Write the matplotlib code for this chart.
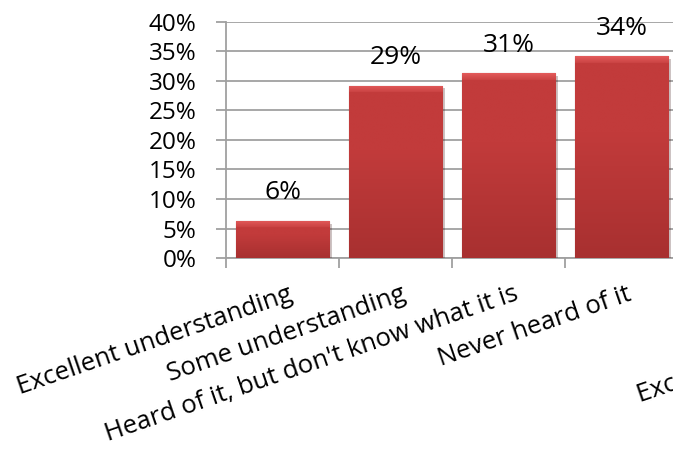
import matplotlib.pyplot as plt
import matplotlib.patheffects as pe
import matplotlib.transforms as mtransforms
from matplotlib.colors import to_rgb
import numpy as np

plt.rcParams['font.family'] = ['Open Sans', 'DejaVu Sans']

categories = ['Excellent understanding', 'Some understanding',
              "Heard of it, but don't know what it is", 'Never heard of it']
values = [6.3, 29.2, 31.3, 34.2]
labels = ['6%', '29%', '31%', '34%']
yticks = [0, 5, 10, 15, 20, 25, 30, 35, 40]

grid_col = '#a0a0a0'
bar_col = '#c03a3a'
rot = 19

fig = plt.figure(figsize=(6.73, 4.54), dpi=100)
ax = fig.add_axes([226 / 673, 196 / 454, 452 / 673, 236 / 454])

x = np.arange(len(categories))
bars = ax.bar(x, values, width=0.83, color=bar_col, edgecolor='#8a2626',
              linewidth=0.8, zorder=3,
              path_effects=[pe.SimplePatchShadow(offset=(2, -2), alpha=0.25),
                            pe.Normal()])

ax.set_xlim(-0.5, 3.5)
ax.set_ylim(0, 40)

# bevel-like shading: slightly darker at the bottom, light strip on top
dark = np.array(to_rgb('#a83030'))
mid = np.array(to_rgb('#c23b3b'))
light = np.array(to_rgb('#e25a5a'))
px_per_unit = 236 / 40
for b in bars:
    x0, y0 = b.get_x(), b.get_y()
    w, h = b.get_width(), b.get_height()
    n = max(int(h * px_per_unit), 10)
    t = np.linspace(0, 1, n)[:, None]
    rgb = dark + (mid - dark) * np.clip(t * 1.6, 0, 1)
    top = np.zeros(n)
    top[-7:] = np.linspace(0.3, 1.0, 7)
    rgb = rgb * (1 - top[:, None]) + light * top[:, None]
    img = np.repeat(rgb[:, None, :], 2, axis=1)
    im = ax.imshow(img, extent=[x0, x0 + w, y0, y0 + h], origin='lower',
                   aspect='auto', zorder=3.5, interpolation='bilinear')
    im.set_clip_path(b)

for b, lab in zip(bars, labels):
    ax.annotate(lab, (b.get_x() + b.get_width() / 2, b.get_height()),
                xytext=(0, 28), textcoords='offset pixels',
                ha='center', va='center', fontsize=19, color='black')

ax.set_yticks(yticks)
ax.set_yticklabels([f'{t}%' for t in yticks], fontsize=17.5)
ax.yaxis.grid(True, color=grid_col, linewidth=1.3, zorder=0)
ax.set_axisbelow(True)

ax.set_xticks(np.arange(-0.5, 4.0, 1.0))
ax.set_xticklabels([])
ax.set_xticks(x, minor=True)
ax.set_xticklabels(categories, minor=True, rotation=rot, ha='right',
                   va='top', rotation_mode='anchor', fontsize=18.5)
ax.tick_params(axis='x', which='minor', length=0, pad=17)
ax.tick_params(axis='both', which='major', length=7, width=1.3,
               color=grid_col, direction='out')
ax.tick_params(axis='y', pad=14)

shift = mtransforms.ScaledTranslation(5 / 100, 0, fig.dpi_scale_trans)
for lab in ax.get_xticklabels(minor=True):
    lab.set_transform(lab.get_transform() + shift)

for s in ['top', 'right']:
    ax.spines[s].set_visible(False)
for s in ['left', 'bottom']:
    ax.spines[s].set_color(grid_col)
    ax.spines[s].set_linewidth(1.3)

# fragment of a neighbouring label, cut by the image edge
fig.text(640 / 673, 52 / 454, 'Excellent understanding', rotation=rot,
         ha='left', va='baseline', fontsize=18.5, rotation_mode='anchor')

fig.savefig('out.png', dpi=100)
